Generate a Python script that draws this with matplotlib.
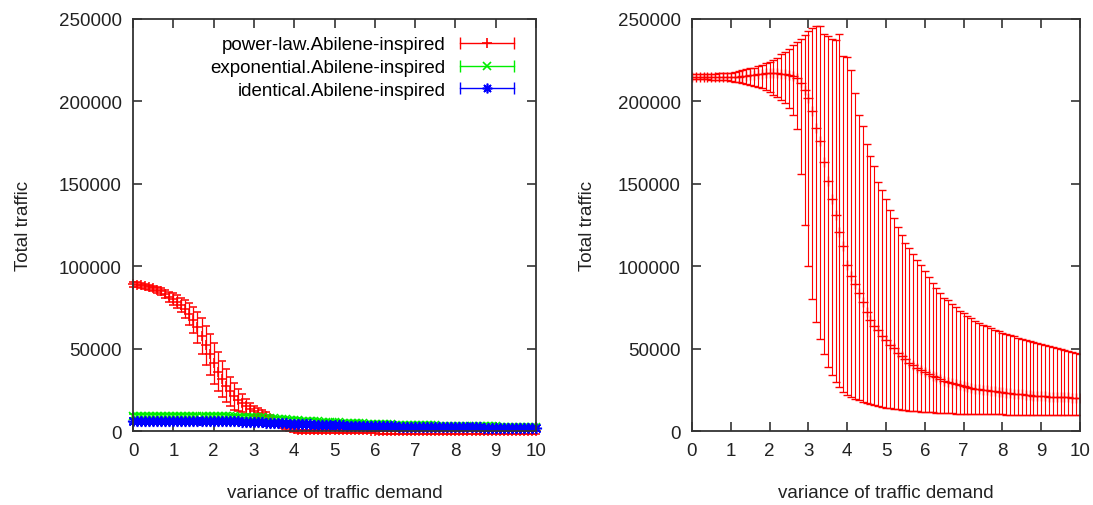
import matplotlib
matplotlib.use("Agg")
import matplotlib.pyplot as plt
import numpy as np
from matplotlib import font_manager
from matplotlib.legend_handler import HandlerBase
from matplotlib.lines import Line2D

# variance of traffic demand (same grid in both panels)
variance = np.round(np.arange(101) * 0.1, 1)

# left panel: three traffic-matrix models
powerlaw_mean = [
    89000, 88700, 88300, 87800, 87200, 86500, 85600, 84700, 83200, 81500,
    80000, 78500, 76500, 74000, 71000, 67500, 63000, 57500, 52000, 46500,
    41000, 36000, 31500, 27500, 24000, 21000, 18800, 16800, 15000, 13500,
    12200, 11200, 10300, 9300, 8000, 6500, 5000, 3700, 2600, 1800,
    1200, 900, 700, 600, 550, 500, 480, 460, 440, 420,
    400, 390, 380, 370, 360, 350, 340, 330, 320, 310,
    300, 295, 290, 285, 280, 275, 270, 265, 260, 255,
    250, 245, 240, 235, 230, 225, 220, 215, 210, 205,
    200, 200, 200, 200, 200, 200, 200, 200, 200, 200,
    200, 200, 200, 200, 200, 200, 200, 200, 200, 200, 200,
]
powerlaw_err = [
    1500, 1500, 1500, 1500, 1500, 1600, 1800, 2200, 2600, 3000,
    3500, 4000, 4500, 5500, 6500, 8000, 9500, 11000, 12000, 12500,
    12500, 12000, 11000, 10000, 9000, 8000, 6500, 5500, 4500, 3500,
    3000, 2500, 2200, 2000, 1900, 1800, 1800, 1800, 1800, 1800,
    1800, 1800, 1800, 1800, 1800, 1800, 1800, 1800, 1800, 1800,
    1800, 1800, 1800, 1800, 1800, 1800, 1800, 1800, 1800, 1800,
    1800, 1800, 1800, 1800, 1800, 1800, 1800, 1800, 1800, 1800,
    1800, 1800, 1800, 1800, 1800, 1800, 1800, 1800, 1800, 1800,
    1800, 1800, 1800, 1800, 1800, 1800, 1800, 1800, 1800, 1800,
    1800, 1800, 1800, 1800, 1800, 1800, 1800, 1800, 1800, 1800, 1800,
]
exponential_mean = [
    9200, 9200, 9200, 9200, 9200, 9200, 9200, 9200, 9200, 9200,
    9200, 9200, 9200, 9200, 9200, 9100, 9100, 9100, 9100, 9100,
    9100, 9000, 9000, 9000, 8900, 8900, 8800, 8800, 8700, 8600,
    8500, 8400, 8300, 8100, 7900, 7700, 7500, 7300, 7100, 6900,
    6700, 6500, 6300, 6200, 6000, 5900, 5800, 5600, 5500, 5400,
    5300, 5200, 5100, 5000, 4900, 4800, 4700, 4600, 4500, 4400,
    4300, 4200, 4200, 4100, 4000, 3900, 3900, 3800, 3700, 3700,
    3600, 3600, 3500, 3500, 3400, 3400, 3300, 3300, 3200, 3200,
    3100, 3100, 3000, 3000, 3000, 2900, 2900, 2900, 2800, 2800,
    2800, 2700, 2700, 2700, 2600, 2600, 2600, 2500, 2500, 2500, 2500,
]
exponential_err = 1100
identical_mean = [
    6300, 6300, 6300, 6300, 6300, 6300, 6300, 6300, 6200, 6200,
    6200, 6200, 6200, 6200, 6200, 6100, 6100, 6100, 6100, 6100,
    6000, 6000, 6000, 5900, 5900, 5800, 5800, 5700, 5600, 5500,
    5400, 5300, 5200, 5100, 5000, 4900, 4800, 4700, 4600, 4500,
    4400, 4300, 4200, 4100, 4000, 3900, 3800, 3800, 3700, 3600,
    3500, 3500, 3400, 3300, 3300, 3200, 3200, 3100, 3100, 3000,
    3000, 2900, 2900, 2800, 2800, 2800, 2700, 2700, 2700, 2600,
    2600, 2600, 2500, 2500, 2500, 2400, 2400, 2400, 2400, 2300,
    2300, 2300, 2300, 2200, 2200, 2200, 2200, 2100, 2100, 2100,
    2100, 2100, 2000, 2000, 2000, 2000, 2000, 1900, 1900, 1900, 1900,
]
identical_err = 1600

# right panel: power-law only, mean with min/max
right_mean = [
    215000, 215000, 215000, 215000, 215000, 215000, 215000, 215000, 215000, 215000,
    215000, 215000, 215000, 215500, 215500, 216000, 216000, 216500, 216500, 217000,
    217000, 217000, 217000, 216500, 216500, 216000, 215500, 214000, 211000, 207000,
    202000, 194000, 184000, 176000, 163000, 152000, 141000, 131000, 121000, 112000,
    101000, 94000, 89000, 84000, 78000, 72000, 67500, 64000, 61000, 57500,
    55000, 52000, 50500, 47500, 45500, 43500, 41500, 40000, 38500, 37000,
    35800, 34700, 33600, 32500, 31400, 30400, 29600, 28900, 28300, 27700,
    27200, 26700, 26200, 25800, 25400, 25000, 24600, 24300, 24000, 23700,
    23400, 23100, 22900, 22600, 22400, 22200, 21900, 21700, 21500, 21400,
    21200, 21100, 20900, 20800, 20700, 20600, 20500, 20400, 20300, 20200, 20100,
]
right_high = [
    216500, 216500, 216500, 216600, 216700, 216800, 216900, 217000, 217100, 217300,
    217500, 218000, 218500, 219000, 219500, 220000, 220500, 221500, 222000, 223000,
    224000, 225000, 226500, 228500, 230000, 232000, 234000, 236000, 238000, 240500,
    242500, 244500, 246000, 246000, 241000, 239500, 238000, 237000, 241000, 227500,
    227000, 219000, 205000, 192000, 185000, 174000, 167000, 161000, 151000, 146000,
    141000, 134000, 129000, 124000, 119000, 114000, 111000, 107500, 104000, 100500,
    97000, 93500, 90000, 86500, 83500, 81000, 79500, 77000, 75000, 73000,
    71500, 70000, 68500, 67000, 65500, 64500, 63500, 62500, 61500, 60500,
    59500, 59000, 58200, 57400, 56600, 55800, 55200, 54400, 53800, 53200,
    52600, 52000, 51400, 50800, 50200, 49600, 49000, 48400, 47900, 47400, 46800,
]
right_low = [
    213500, 213500, 213500, 213400, 213300, 213200, 213100, 213000, 212900, 212700,
    212500, 212000, 211500, 211000, 210500, 210000, 209500, 209000, 208000, 207000,
    206000, 204000, 202500, 201000, 199000, 196000, 192000, 183000, 156000, 125000,
    100000, 80000, 66000, 56000, 47000, 39000, 34000, 30000, 26500, 23500,
    22000, 20500, 19400, 18600, 17600, 16800, 16100, 15500, 15000, 14500,
    14100, 13800, 13500, 13200, 13000, 12700, 12400, 12200, 12000, 11800,
    11600, 11400, 11300, 11100, 11000, 10900, 10800, 10700, 10600, 10500,
    10400, 10300, 10200, 10100, 10100, 10100, 10100, 10100, 10100, 10100,
    10100, 10000, 10000, 10000, 10000, 10000, 10000, 10000, 10000, 10000,
    10000, 10000, 10000, 10000, 10000, 10000, 10000, 10000, 10000, 10000, 10000,
]

labels = ["power-law.Abilene-inspired", "exponential.Abilene-inspired", "identical.Abilene-inspired"]
RED, GREEN, BLUE = "#ff0000", "#00ee00", "#0000ff"

names = {f.name for f in font_manager.fontManager.ttflist}
if "Liberation Sans Narrow" in names:
    plt.rcParams["font.family"] = ["Liberation Sans Narrow", "DejaVu Sans"]
    FS = 16
else:
    plt.rcParams["font.family"] = ["Liberation Sans", "DejaVu Sans"]
    FS = 13.5


class GnuKey(HandlerBase):
    # gnuplot style key: horizontal bar, end ticks, point in the middle
    def create_artists(self, legend, orig_handle, xdescent, ydescent, width, height, fontsize, trans):
        c = orig_handle.get_color()
        y = height / 2 - ydescent
        x0, x1 = -xdescent, width - xdescent
        bar = Line2D([x0, x1], [y, y], color=c, lw=1)
        ends = Line2D([x0, x1], [y, y], ls="none", marker="|", ms=8, mew=1, color=c)
        mid = Line2D([(x0 + x1) / 2], [y], ls="none", marker=orig_handle.get_marker(),
                     ms=orig_handle.get_markersize(), mew=1.2, color=c)
        for a in (bar, ends, mid):
            a.set_transform(trans)
        return [bar, ends, mid]


def style_axes(ax):
    ax.set_xlim(0, 10)
    ax.set_ylim(0, 250000)
    ax.set_xticks(range(0, 11))
    ax.set_yticks(range(0, 250001, 50000))
    ax.tick_params(direction="in", length=6.5, width=1.1, top=True, right=True,
                   labelsize=FS, colors="#222222", pad=8)
    for s in ax.spines.values():
        s.set_linewidth(1.3)
        s.set_color("#333333")
    ax.set_xlabel("variance of traffic demand", fontsize=FS, color="#222222")
    ax.set_ylabel("Total traffic", fontsize=FS, color="#222222")
    ax.xaxis.set_label_coords(0.5, -0.128)


fig = plt.figure(figsize=(10.93, 5.06), dpi=100)
ax1 = fig.add_axes([0.1217, 0.1462, 0.3687, 0.8143])
ax2 = fig.add_axes([0.6331, 0.1462, 0.3550, 0.8143])

eb = dict(capsize=3, elinewidth=0.9, capthick=0.9, mew=1.1, ls="none", clip_on=False)
ax1.errorbar(variance, powerlaw_mean, yerr=powerlaw_err, fmt="+", ms=7, color=RED, **eb)
ax1.errorbar(variance, exponential_mean, yerr=exponential_err, fmt="x", ms=5.5, color=GREEN, **eb)
ax1.errorbar(variance, identical_mean, yerr=identical_err, marker=(8, 2, 0), ms=8, color=BLUE, **eb)

r_mean = np.array(right_mean)
r_err = [r_mean - np.array(right_low), np.array(right_high) - r_mean]
ax2.errorbar(variance, r_mean, yerr=r_err, fmt="+", ms=7, color=RED,
             capsize=3, elinewidth=0.8, capthick=0.9, mew=1.0, ls="none")

style_axes(ax1)
style_axes(ax2)
ax1.yaxis.set_label_coords(-0.251, 0.5)
ax2.yaxis.set_label_coords(-0.247, 0.5)

handles = [
    Line2D([], [], color=RED, marker="+", ms=7),
    Line2D([], [], color=GREEN, marker="x", ms=6),
    Line2D([], [], color=BLUE, marker=(8, 2, 0), ms=7),
]
ax1.legend(handles, labels, loc="upper right", bbox_to_anchor=(0.945, 0.958),
           frameon=False, markerfirst=False, fontsize=FS, handlelength=2.85,
           handletextpad=0.8, labelspacing=0.3, borderpad=0, borderaxespad=0,
           handler_map={Line2D: GnuKey()})

fig.savefig("out.png", dpi=100)
